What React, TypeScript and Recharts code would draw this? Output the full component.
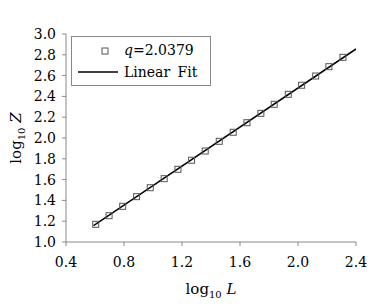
import { ComposedChart, Scatter, Line, XAxis, YAxis, Legend, Label } from 'recharts'

const logL = [0.605, 0.697, 0.791, 0.887, 0.981, 1.077, 1.172, 1.266, 1.36, 1.457, 1.553, 1.648, 1.744, 1.836, 1.933, 2.025, 2.122, 2.213, 2.31]
const logZ = [1.17, 1.253, 1.343, 1.436, 1.522, 1.609, 1.699, 1.786, 1.875, 1.968, 2.055, 2.147, 2.237, 2.324, 2.42, 2.507, 2.596, 2.686, 2.776]
const fitX = [0.59, 2.4]
const fitY = [1.158, 2.856]
const xTicks = [0.4, 0.8, 1.2, 1.6, 2.0, 2.4]
const yTicks = [1.0, 1.2, 1.4, 1.6, 1.8, 2.0, 2.2, 2.4, 2.6, 2.8, 3.0]
const qLabel = '2.0379'

const points = logL.map((x, i) => ({ x, y: logZ[i] }))
const fit = fitX.map((x, i) => ({ x, y: fitY[i] }))

const font = '"DejaVu Serif", serif'
const axisColor = '#888'

function Square(props: any) {
  const { cx, cy } = props
  return <rect x={cx - 3} y={cy - 3} width={6} height={6} fill="none" stroke="#555" strokeWidth={1} />
}

function LegendBox() {
  return (
    <div style={{ position: 'relative', width: 140, height: 50, border: '1px solid #888', boxSizing: 'border-box', background: '#fff', fontFamily: font, fontSize: 14, color: '#000' }}>
      <svg width={50} height={50} style={{ position: 'absolute', left: 0, top: 0 }}>
        <rect x={30} y={11} width={6} height={6} fill="none" stroke="#555" strokeWidth={1} />
        <line x1={6} x2={46} y1={35} y2={35} stroke="#000" strokeWidth={1.5} />
      </svg>
      <div style={{ position: 'absolute', left: 52, top: 5, lineHeight: '16px', whiteSpace: 'nowrap' }}>
        <i>q</i>={qLabel}
      </div>
      <div style={{ position: 'absolute', left: 52, top: 27, lineHeight: '16px', whiteSpace: 'nowrap', wordSpacing: 3 }}>
        Linear Fit
      </div>
    </div>
  )
}

function XTitle(props: any) {
  const { viewBox } = props
  const cx = viewBox.x + viewBox.width / 2
  return (
    <text x={cx} y={294} textAnchor="middle" fontFamily={font} fontSize={15} fill="#000">
      log<tspan fontSize={10} dy={4}>10</tspan>
      <tspan dy={-4} fontStyle="italic"> L</tspan>
    </text>
  )
}

function YTitle(props: any) {
  const { viewBox } = props
  const cy = viewBox.y + viewBox.height / 2
  return (
    <text x={0} y={0} transform={`translate(21, ${cy}) rotate(-90)`} textAnchor="middle" fontFamily={font} fontSize={15} fill="#000">
      log<tspan fontSize={10} dy={4}>10</tspan>
      <tspan dy={-4} fontStyle="italic"> Z</tspan>
    </text>
  )
}

export default function App() {
  return (
    <div style={{ position: 'absolute', left: 0, top: 0, background: '#fff' }}>
      <ComposedChart width={374} height={304} margin={{ top: 34, right: 18, left: 0, bottom: 0 }}>
        <XAxis
          type="number"
          dataKey="x"
          domain={[0.4, 2.4]}
          ticks={xTicks}
          interval={0}
          allowDataOverflow
          height={62}
          stroke={axisColor}
          tickSize={4}
          tickMargin={11}
          tick={{ fill: '#000', fontFamily: font, fontSize: 14 }}
          tickFormatter={(v: number) => v.toFixed(1)}
        >
          <Label content={<XTitle />} />
        </XAxis>
        <YAxis
          type="number"
          dataKey="y"
          domain={[1.0, 3.0]}
          ticks={yTicks}
          interval={0}
          allowDataOverflow
          width={66}
          stroke={axisColor}
          tickSize={4}
          tickMargin={6}
          tick={{ fill: '#000', fontFamily: font, fontSize: 14 }}
          tickFormatter={(v: number) => v.toFixed(1)}
        >
          <Label content={<YTitle />} />
        </YAxis>
        <Legend
          layout="horizontal"
          verticalAlign="middle"
          align="center"
          content={() => <LegendBox />}
          wrapperStyle={{ left: 71, top: 36, width: 140, height: 50 }}
        />
        <Scatter data={points} dataKey="y" shape={<Square />} isAnimationActive={false} />
        <Line data={fit} dataKey="y" type="linear" stroke="#000" strokeWidth={1.5} dot={false} activeDot={false} isAnimationActive={false} />
      </ComposedChart>
    </div>
  )
}
